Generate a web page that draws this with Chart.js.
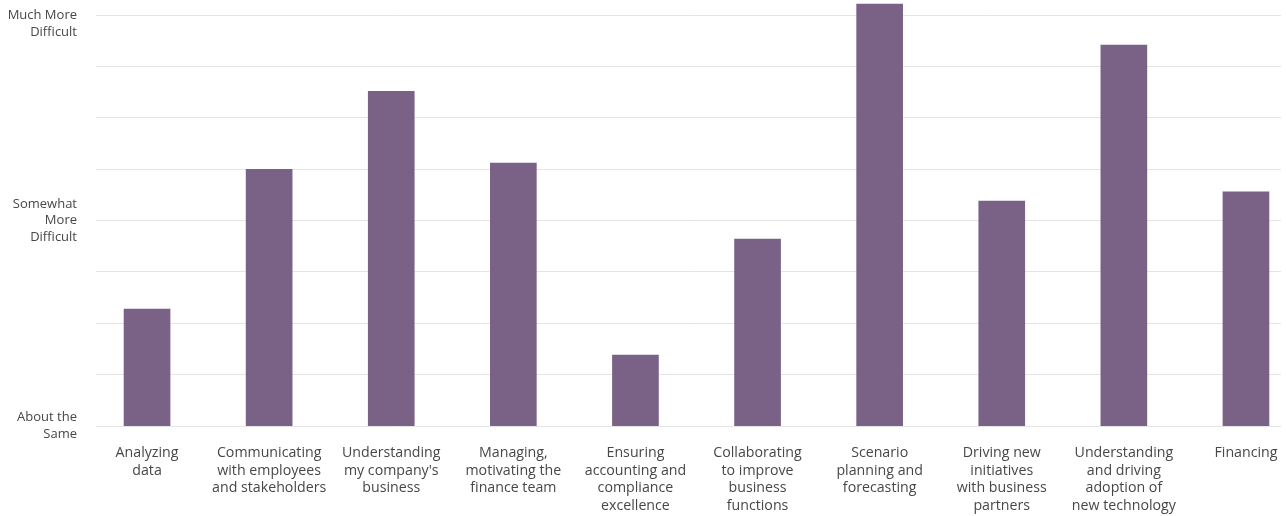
<!DOCTYPE html>
<html>
<head>
<meta charset="utf-8">
<script src="https://cdn.jsdelivr.net/npm/chart.js@4"></script>
<style>
  html, body { margin: 0; padding: 0; background: #fff; }
  #wrap { width: 1286px; height: 516px; }
</style>
</head>
<body>
<div id="wrap"><canvas id="difficultyChart"></canvas></div>
<script>
// Areas of finance work, one bar each (multi-line labels)
const categories = [
  ['Analyzing', 'data'],
  ['Communicating', 'with employees', 'and stakeholders'],
  ['Understanding', "my company's", 'business'],
  ['Managing,', 'motivating the', 'finance team'],
  ['Ensuring', 'accounting and', 'compliance', 'excellence'],
  ['Collaborating', 'to improve', 'business', 'functions'],
  ['Scenario', 'planning and', 'forecasting'],
  ['Driving new', 'initiatives', 'with business', 'partners'],
  ['Understanding', 'and driving', 'adoption of', 'new technology'],
  ['Financing']
];

// 1 = about the same, 2 = somewhat more difficult, 3 = much more difficult
const difficulty = [1.57, 2.25, 2.63, 2.28, 1.345, 1.91, 3.055, 2.095, 2.855, 2.14];

const gridValues = [1, 1.25, 1.5, 1.75, 2, 2.25, 2.5, 2.75, 3];
const yLabelValues = [1, 2, 3];
const yLabels = [
  ['About the', 'Same'],
  ['Somewhat', 'More', 'Difficult'],
  ['', 'Much More', 'Difficult']
];

const ctx = document.getElementById('difficultyChart');
const textColor = '#474747';
const fontFamily = '"Open Sans", "Noto Sans", sans-serif';

new Chart(ctx, {
  type: 'bar',
  data: {
    datasets: [{
      data: difficulty.map((v, i) => ({ x: i, y: v })),
      backgroundColor: '#7a6186',
      barThickness: 46,
      borderWidth: 0
    }]
  },
  options: {
    responsive: true,
    maintainAspectRatio: false,
    animation: false,
    layout: { padding: { top: 3, right: 5, left: 0, bottom: 0 } },
    plugins: {
      legend: { display: false },
      tooltip: { enabled: false }
    },
    scales: {
      x: {
        type: 'linear',
        offset: false,
        min: -0.418,
        max: 9.287,
        grid: { display: false, drawTicks: false },
        border: { display: false },
        afterBuildTicks: (scale) => {
          scale.ticks = categories.map((_, i) => ({ value: i }));
        },
        afterFit: (scale) => {
          scale.height = 90;
          scale.paddingLeft = 0;
          scale.paddingRight = 0;
        },
        ticks: {
          autoSkip: false,
          maxRotation: 0,
          minRotation: 0,
          padding: 18,
          color: textColor,
          font: { family: fontFamily, size: 14.2, lineHeight: '17.7px' },
          callback: (value) => categories[value]
        }
      },
      y: {
        min: 1,
        max: 3.06,
        grid: { color: '#e4e4e4', lineWidth: 1, drawTicks: false },
        border: { display: false },
        afterBuildTicks: (scale) => {
          scale.ticks = gridValues.map((v) => ({ value: v }));
        },
        afterFit: (scale) => {
          scale.width = 96;
          scale.paddingTop = 0;
          scale.paddingBottom = 0;
        },
        ticks: {
          padding: 19,
          color: textColor,
          font: { family: fontFamily, size: 13, lineHeight: '16.5px' },
          callback: (value) => {
            const idx = yLabelValues.indexOf(value);
            return idx >= 0 ? yLabels[idx] : '';
          }
        }
      }
    }
  }
});
</script>
</body>
</html>
